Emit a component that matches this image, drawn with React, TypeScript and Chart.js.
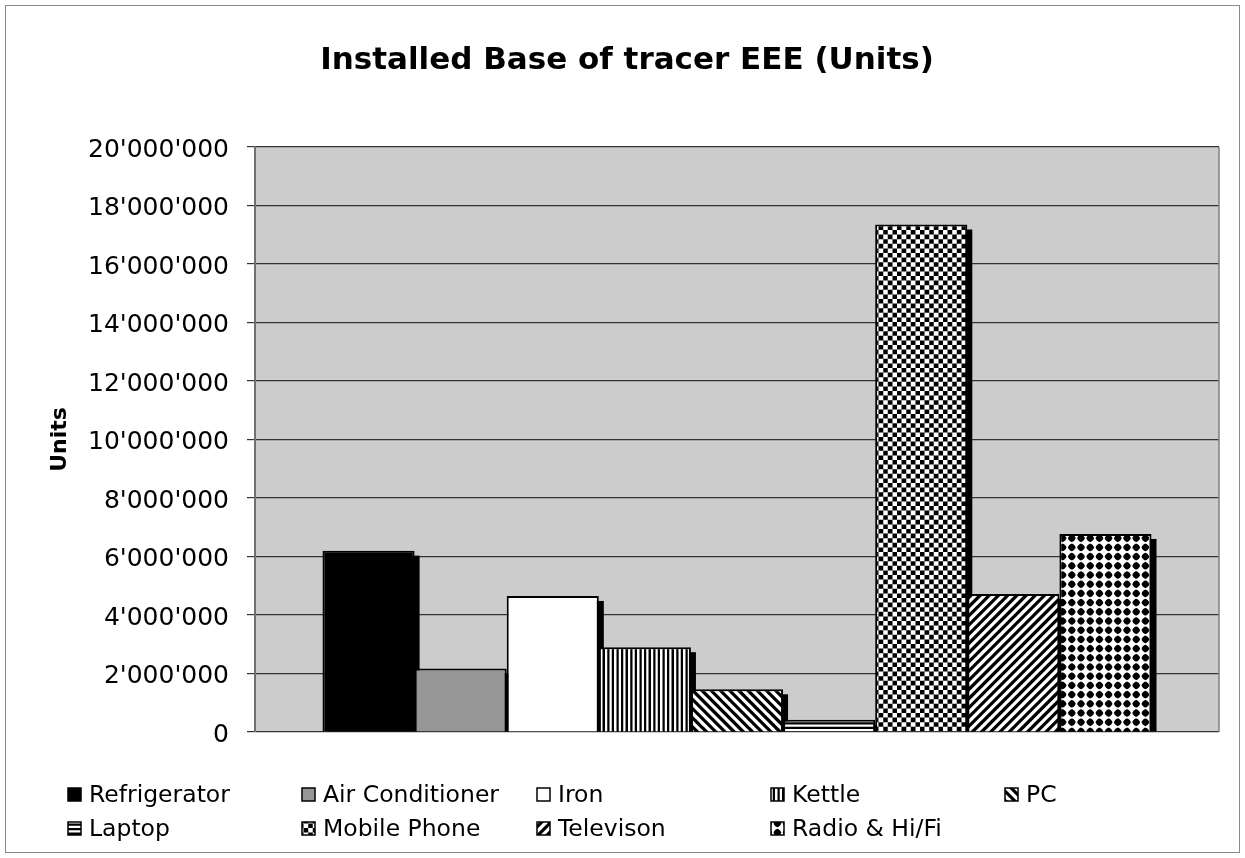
import React, { useEffect, useRef } from "react";
import { Chart, registerables } from "chart.js";

Chart.register(...registerables);

const chartTitle = "Installed Base of tracer EEE (Units)";
const yAxisTitle = "Units";
const categories = [""];
const seriesNames = [
  "Refrigerator",
  "Air Conditioner",
  "Iron",
  "Kettle",
  "PC",
  "Laptop",
  "Mobile Phone",
  "Televison",
  "Radio & Hi/Fi",
];
const seriesValues = [6200000, 2170000, 4650000, 2900000, 1460000, 420000, 17350000, 4720000, 6770000];
const seriesFills = ["black", "grey", "white", "vstripe", "diagdown", "hstripe", "checker", "diagup", "dots"];
const yMin = 0;
const yMax = 20000000;
const yStep = 2000000;

const FONT = "'DejaVu Sans', Verdana, sans-serif";

function mod(a: number, m: number) {
  return ((a % m) + m) % m;
}

const patternFns: Record<string, (u: number, v: number) => boolean> = {
  vstripe: (u) => mod(u, 4) < 2,
  hstripe: (_u, v) => mod(v, 4) < 2,
  diagdown: (u, v) => mod(u - v, 8) < 4,
  diagup: (u, v) => mod(u + v, 8) < 4,
  checker: (u, v) => (Math.floor(u / 4) + Math.floor(v / 4)) % 2 === 0,
  dots: (u, v) => {
    const du = Math.abs(mod(u, 8) - 4);
    const dv = Math.abs(mod(v, 8) - 4);
    return Math.pow(du, 1.5) + Math.pow(dv, 1.5) < Math.pow(3.3, 1.5);
  },
};

function makeTile(fn: (u: number, v: number) => boolean): HTMLCanvasElement {
  const size = 46;
  const s = 1.15;
  const ss = 4;
  const c = document.createElement("canvas");
  c.width = size;
  c.height = size;
  const g = c.getContext("2d")!;
  const img = g.createImageData(size, size);
  for (let y = 0; y < size; y++) {
    for (let x = 0; x < size; x++) {
      let cnt = 0;
      for (let j = 0; j < ss; j++) {
        for (let i = 0; i < ss; i++) {
          const u = (x + (i + 0.5) / ss) / s;
          const v = (y + (j + 0.5) / ss) / s;
          if (fn(u, v)) cnt++;
        }
      }
      const val = Math.round(255 * (1 - cnt / (ss * ss)));
      const k = (y * size + x) * 4;
      img.data[k] = val;
      img.data[k + 1] = val;
      img.data[k + 2] = val;
      img.data[k + 3] = 255;
    }
  }
  g.putImageData(img, 0, 0);
  return c;
}

function formatTick(v: number) {
  return String(Math.round(v)).replace(/\B(?=(\d{3})+(?!\d))/g, "'");
}

export default function App() {
  const ref = useRef<HTMLCanvasElement | null>(null);

  useEffect(() => {
    const canvas = ref.current!;
    const ctx = canvas.getContext("2d")!;
    const fills: (string | CanvasPattern)[] = seriesFills.map((f) => {
      if (f === "black") return "#000000";
      if (f === "grey") return "#969696";
      if (f === "white") return "#ffffff";
      return ctx.createPattern(makeTile(patternFns[f]), "repeat")!;
    });

    const decorPlugin = {
      id: "decor",
      beforeDraw(chart: any) {
        const { ctx: c, chartArea: a, width, height } = chart;
        c.save();
        c.fillStyle = "#ffffff";
        c.fillRect(0, 0, width, height);
        c.fillStyle = "#cccccc";
        c.fillRect(a.left, a.top, a.right - a.left, a.bottom - a.top);
        c.restore();
      },
      beforeDatasetsDraw(chart: any) {
        const { ctx: c, chartArea: a } = chart;
        c.save();
        c.beginPath();
        c.rect(a.left, a.top, a.right - a.left, a.bottom - a.top);
        c.clip();
        c.fillStyle = "#000000";
        chart.data.datasets.forEach((_ds: any, i: number) => {
          const meta = chart.getDatasetMeta(i);
          meta.data.forEach((el: any) => {
            const p = el.getProps(["x", "y", "base", "width"], true);
            c.fillRect(p.x - p.width / 2 + 5, p.y + 5, p.width, p.base - p.y - 5);
          });
        });
        c.restore();
      },
      afterDraw(chart: any) {
        const { ctx: c, chartArea: a, width, height } = chart;
        c.save();
        c.strokeStyle = "#808080";
        c.lineWidth = 1.5;
        c.beginPath();
        c.moveTo(a.right, a.top);
        c.lineTo(a.right, a.bottom);
        c.stroke();
        c.strokeStyle = "#8a8a8a";
        c.lineWidth = 1;
        c.strokeRect(5.5, 5.5, width - 11, height - 11);
        c.fillStyle = "#000000";
        c.font = `bold 31px ${FONT}`;
        c.textAlign = "center";
        c.textBaseline = "middle";
        c.fillText(chartTitle, 627, 61);
        c.font = `23.5px ${FONT}`;
        c.textAlign = "left";
        const colX = [68, 302, 537, 771, 1005];
        const rowY = [795, 829];
        seriesNames.forEach((name, i) => {
          const col = i < 5 ? i : i - 5;
          const row = i < 5 ? 0 : 1;
          const x = colX[col];
          const y = rowY[row];
          c.fillStyle = fills[i] as any;
          c.fillRect(x, y - 7, 13, 13);
          c.strokeStyle = "#000000";
          c.lineWidth = 1.5;
          c.strokeRect(x, y - 7, 13, 13);
          c.fillStyle = "#000000";
          c.fillText(name, x + 21, y + 1);
        });
        c.restore();
      },
    };

    const chart = new Chart(ctx, {
      type: "bar",
      data: {
        labels: categories,
        datasets: seriesNames.map((name, i) => ({
          label: name,
          data: [seriesValues[i]],
          backgroundColor: fills[i] as any,
          borderColor: "#000000",
          borderWidth: 2,
          categoryPercentage: 0.86,
          barPercentage: 1,
        })),
      },
      options: {
        responsive: false,
        animation: false,
        devicePixelRatio: 1,
        layout: { padding: { left: 0, top: 147, right: 26, bottom: 126 } },
        plugins: {
          legend: { display: false },
          title: { display: false },
          tooltip: { enabled: false },
        },
        scales: {
          x: { display: false },
          y: {
            min: yMin,
            max: yMax,
            afterFit: (scale: any) => {
              scale.width = 255;
            },
            ticks: {
              stepSize: yStep,
              color: "#000000",
              padding: 18,
              labelOffset: 3,
              font: { family: FONT, size: 25 },
              callback: (v: any) => formatTick(Number(v)),
            },
            grid: {
              color: "#333333",
              lineWidth: 1.2,
              drawTicks: true,
              tickLength: 8,
              tickColor: "#333333",
            },
            border: { display: true, color: "#707070", width: 2 },
            title: {
              display: true,
              text: yAxisTitle,
              color: "#000000",
              font: { family: FONT, size: 22, weight: "bold" },
              padding: { top: 47, bottom: 0 },
            },
          },
        },
      },
      plugins: [decorPlugin],
    });

    return () => chart.destroy();
  }, []);

  return (
    <div style={{ position: "absolute", left: 0, top: 0, width: 1245, height: 858 }}>
      <canvas ref={ref} width={1245} height={858} />
    </div>
  );
}
